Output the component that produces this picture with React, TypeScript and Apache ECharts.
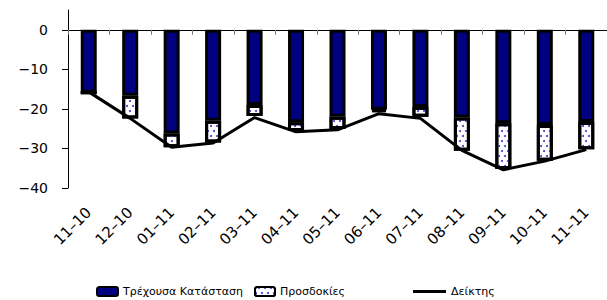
import React, { useEffect, useRef } from 'react';
import * as echarts from 'echarts';

const categories = ['11-10', '12-10', '01-11', '02-11', '03-11', '04-11', '05-11', '06-11', '07-11', '08-11', '09-11', '10-11', '11-11'];
const currentSituation = [-15.9, -16.7, -26.2, -23.0, -19.0, -23.4, -22.0, -20.2, -19.5, -22.2, -23.6, -24.1, -23.3];
const expectations = [0, -5.7, -3.5, -5.5, -2.8, -2.2, -3.1, -0.5, -2.5, -8.4, -11.6, -9.0, -6.9];
const indexValues = [-15.7, -22.4, -29.7, -28.6, -22.2, -25.8, -25.3, -21.2, -22.4, -30.5, -35.4, -33.2, -30.3];
const yTicks = [-40, -30, -20, -10, 0];

const FONT = 'DejaVu Sans';

export default function App() {
  const ref = useRef<HTMLDivElement>(null);
  useEffect(() => {
    if (!ref.current) return;
    const chart = echarts.init(ref.current, null, { renderer: 'svg' });
    const legendText = { fontSize: 11, fontFamily: FONT, color: '#000' };
    chart.setOption({
      animation: false,
      backgroundColor: '#fff',
      grid: { left: 68, right: 0, top: 10, bottom: 112, containLabel: false, outerBoundsMode: 'none' },
      legend: [
        { data: ['Τρέχουσα Κατάσταση'], left: 96, top: 286, padding: 0, itemWidth: 21, itemHeight: 9, textStyle: legendText },
        { data: ['Προσδοκίες'], left: 254, top: 286, padding: 0, itemWidth: 20, itemHeight: 9, textStyle: legendText },
        { data: [{ name: 'Δείκτης', icon: 'rect' }], left: 413, top: 286, padding: 0, itemWidth: 33, itemHeight: 3, textStyle: legendText },
      ],
      xAxis: [
        {
          type: 'category',
          data: categories,
          position: 'bottom',
          axisLine: { show: true, onZero: true, lineStyle: { color: '#000', width: 1 } },
          axisTick: { show: true, length: 5, lineStyle: { color: '#777' } },
          axisLabel: { show: false },
        },
        {
          type: 'category',
          data: categories,
          position: 'bottom',
          axisLine: { show: false, onZero: false },
          axisTick: { show: false },
          axisLabel: {
            show: true,
            interval: 0,
            rotate: 45,
            margin: 22,
            fontSize: 15,
            fontFamily: FONT,
            color: '#000',
            formatter: (v: string) => v.replace('-', '\u2013'),
          },
        },
      ],
      yAxis: {
        type: 'value',
        min: -40,
        max: 5,
        interval: 10,
        axisLine: { show: true, onZero: false, lineStyle: { color: '#000', width: 1 } },
        axisTick: { show: true, length: 6, customValues: yTicks, lineStyle: { color: '#000' } },
        axisLabel: {
          customValues: yTicks,
          margin: 20,
          fontSize: 14,
          fontFamily: FONT,
          color: '#000',
          formatter: (v: number) => String(v).replace('-', '\u2212'),
        },
        splitLine: { show: false },
      },
      series: [
        {
          name: 'Τρέχουσα Κατάσταση',
          type: 'bar',
          stack: 's',
          xAxisIndex: 0,
          data: currentSituation,
          barWidth: 16,
          itemStyle: { color: '#000080', borderColor: '#000', borderWidth: 3 },
        },
        {
          name: 'Προσδοκίες',
          type: 'bar',
          stack: 's',
          xAxisIndex: 0,
          data: expectations,
          barWidth: 16,
          itemStyle: {
            color: '#fff',
            borderColor: '#000',
            borderWidth: 3,
            decal: {
              symbol: 'circle',
              symbolSize: 1,
              color: '#3a3ad0',
              dashArrayX: [[2, 4], [0, 3, 2, 1]],
              dashArrayY: [2, 3],
            },
          },
        },
        {
          name: 'Δείκτης',
          type: 'line',
          xAxisIndex: 0,
          data: indexValues,
          symbol: 'none',
          showSymbol: false,
          lineStyle: { color: '#000', width: 3 },
          itemStyle: { color: '#000' },
          z: 5,
        },
      ],
    });
    return () => chart.dispose();
  }, []);
  return <div ref={ref} style={{ position: 'fixed', left: 0, top: 0, width: 607, height: 300 }} />;
}
